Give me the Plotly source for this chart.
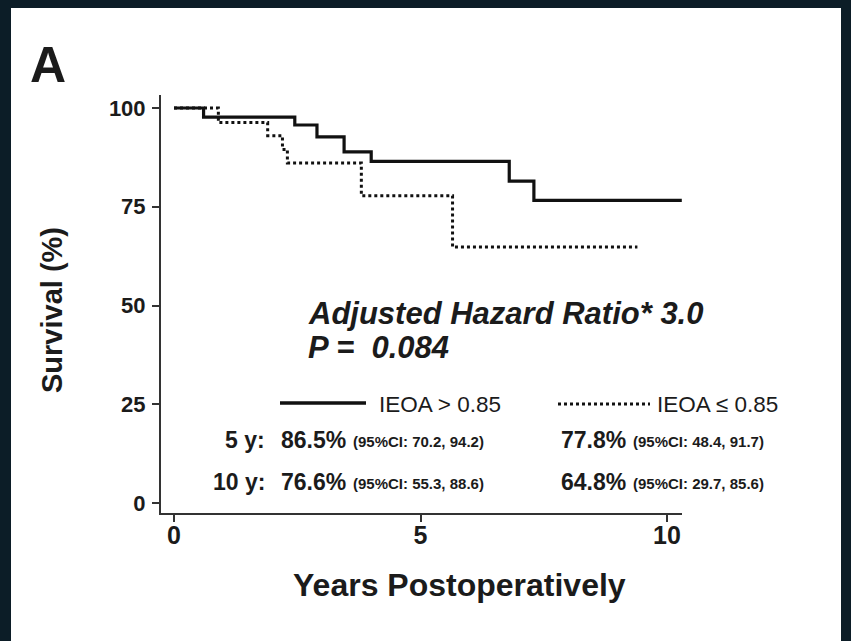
import plotly.graph_objects as go

# Kaplan-Meier survival estimates (years, % surviving)
years_high = [0, 0.6, 2.45, 2.9, 3.45, 4.0, 6.8, 7.3, 10.3]
surv_high = [100, 97.7, 95.7, 92.7, 88.9, 86.5, 81.5, 76.6, 76.6]

years_low = [0, 0.9, 1.9, 2.2, 2.3, 3.8, 5.65, 9.4]
surv_low = [100, 96.3, 93.0, 89.5, 86.1, 77.8, 64.8, 64.8]

x_ticks = [0, 5, 10]
y_ticks = [0, 25, 50, 75, 100]

W, H = 851, 641
L, R, T, B = 161, 682, 95, 513  # plot area in pixels
FONT = "Liberation Sans, Arial, sans-serif"
INK = "#1b1b1b"


def px(x):
    return (x - L) / (R - L)


def py(y):
    return (B - y) / (B - T)


fig = go.Figure()
fig.add_trace(go.Scatter(x=years_high, y=surv_high, mode="lines", line_shape="hv",
                         line=dict(color="#111", width=3.2), showlegend=False))
fig.add_trace(go.Scatter(x=years_low, y=surv_low, mode="lines", line_shape="hv",
                         line=dict(color="#111", width=3, dash="dot"), showlegend=False))

shapes = [
    # white panel on dark frame
    dict(type="rect", xref="paper", yref="paper", x0=px(11), x1=px(841), y0=py(641), y1=py(8),
         fillcolor="white", line=dict(width=0), layer="below"),
    # legend samples
    dict(type="line", xref="paper", yref="paper", x0=px(280), x1=px(366), y0=py(403), y1=py(403),
         line=dict(color="#111", width=3.5)),
    dict(type="line", xref="paper", yref="paper", x0=px(558), x1=px(650), y0=py(404), y1=py(404),
         line=dict(color="#111", width=3, dash="dot")),
]

annots = []


def text(x, y, s, size, anchor="left", bold=True, italic=False, angle=0):
    if bold:
        s = f"<b>{s}</b>"
    if italic:
        s = f"<i>{s}</i>"
    annots.append(dict(xref="paper", yref="paper", x=px(x), y=py(y), text=s, showarrow=False,
                       xanchor=anchor, yanchor="middle", textangle=angle,
                       font=dict(family=FONT, size=size, color=INK)))


text(28, 65, "A", 50)
text(306, 313, "Adjusted Hazard Ratio* 3.0", 31, italic=True)
text(306, 347, "P =  0.084", 31, italic=True)
text(377, 404, "IEOA > 0.85", 22.5, bold=False)
text(655, 404, "IEOA ≤ 0.85", 22.5, bold=False)
text(223, 440, "5 y:", 23)
text(279, 440, "86.5%", 23)
text(351, 441, "(95%CI: 70.2, 94.2)", 15)
text(559, 440, "77.8%", 23)
text(631, 441, "(95%CI: 48.4, 91.7)", 15)
text(211, 482, "10 y:", 23)
text(279, 482, "76.6%", 23)
text(351, 483, "(95%CI: 55.3, 88.6)", 15)
text(559, 482, "64.8%", 23)
text(631, 483, "(95%CI: 29.7, 85.6)", 15)

# axis titles
text(459, 585, "Years Postoperatively", 32, anchor="center")
text(52, 310, "Survival (%)", 29, anchor="center", angle=-90)

# pixel -> data mapping: t=0 at x=174, t=10 at x=667; v=0 at y=503, v=100 at y=108
x_per = (667 - 174) / 10
y_per = (503 - 108) / 100
xr = [(L - 174) / x_per, (R - 174) / x_per]
yr = [(503 - B) / y_per, (503 - T) / y_per]

fig.update_layout(
    width=W, height=H,
    margin=dict(l=L, r=W - R, t=T, b=H - B, pad=0),
    paper_bgcolor="#0c1d27",
    plot_bgcolor="white",
    shapes=shapes,
    annotations=annots,
    showlegend=False,
    xaxis=dict(range=xr, tickvals=x_ticks, ticktext=[f"<b>{v}</b>" for v in x_ticks],
               showgrid=False, zeroline=False, showline=True, linecolor="#333", linewidth=2,
               ticks="outside", ticklen=7, tickwidth=1.5, tickcolor="#333",
               ticklabelstandoff=-8,
               tickfont=dict(family=FONT, size=25, color=INK)),
    yaxis=dict(range=yr, tickvals=y_ticks, ticktext=[f"<b>{v}</b>" for v in y_ticks],
               showgrid=False, zeroline=False, showline=True, linecolor="#333", linewidth=2,
               ticks="outside", ticklen=7, tickwidth=1.5, tickcolor="#333",
               ticklabelstandoff=2,
               tickfont=dict(family=FONT, size=22, color=INK)),
)

fig.write_html("out.html")
